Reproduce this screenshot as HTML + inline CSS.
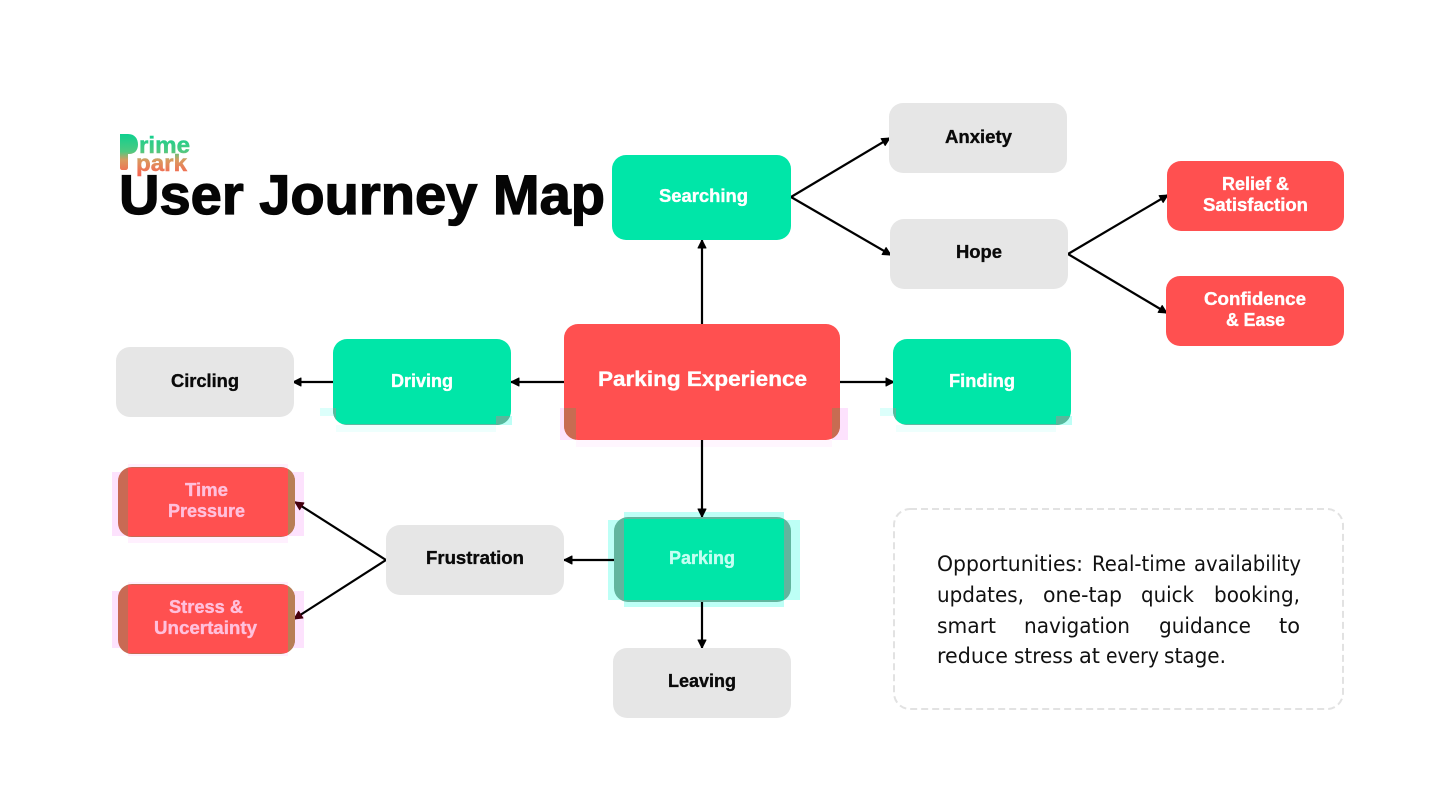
<!DOCTYPE html>
<html><head><meta charset="utf-8"><style>
html,body{margin:0;padding:0;background:#fff}
svg{display:block}
text{font-family:"Liberation Sans",sans-serif;font-weight:700;font-size:18px;stroke-width:.35}
.w{fill:#fff;stroke:#fff}.k{fill:#0a0a0a;stroke:#0a0a0a}
.p{fill:#ffc0dc;stroke:#ffc0dc}
.c{fill:#c4fff2;stroke:#c4fff2}
.n{font-family:"DejaVu Sans",sans-serif;font-weight:400;font-size:21.5px;fill:#111;stroke:none}
.l{stroke:#000;stroke-width:2.2;fill:none}
</style></head><body>
<svg width="1440" height="811" viewBox="0 0 1440 811" xmlns="http://www.w3.org/2000/svg">
<defs>
<linearGradient id="g" gradientUnits="userSpaceOnUse" x1="0" y1="134" x2="0" y2="176">
<stop offset="0" stop-color="#0fd08f"/><stop offset=".42" stop-color="#4fc980"/><stop offset=".62" stop-color="#d99a60"/><stop offset="1" stop-color="#f8604f"/>
</linearGradient>
<marker id="a" markerWidth="10" markerHeight="10" refX="9" refY="5" orient="auto" markerUnits="userSpaceOnUse"><path d="M1 1L9 5L1 9Z" fill="#000" stroke="#000" stroke-linejoin="round"/></marker>
<marker id="b" markerWidth="10" markerHeight="10" refX="9" refY="5" orient="auto" markerUnits="userSpaceOnUse"><path d="M1 1L9 5L1 9Z" fill="#45000f" stroke="#45000f" stroke-linejoin="round"/></marker>
<clipPath id="cPE"><rect x="564" y="324" width="276" height="116" rx="14"/></clipPath>
<clipPath id="cDr"><rect x="333" y="339" width="178" height="86" rx="14"/></clipPath>
<clipPath id="cFi"><rect x="893" y="339" width="178" height="86" rx="14"/></clipPath>
<clipPath id="cPa"><rect x="614" y="517" width="177" height="85" rx="14"/></clipPath>
<clipPath id="cTi"><rect x="118" y="467" width="177" height="70" rx="14"/></clipPath>
<clipPath id="cSt"><rect x="118" y="584" width="177" height="70" rx="14"/></clipPath>
</defs>

<!-- halos -->
<g fill="#fde2fd">
<rect x="112" y="472" width="192" height="64"/><rect x="128" y="464" width="160" height="79" fill="#fff0fe"/>
<rect x="112" y="591" width="192" height="57"/><rect x="128" y="582" width="160" height="74" fill="#fff0fe"/>
<rect x="560" y="408" width="16" height="32"/><rect x="832" y="408" width="16" height="32"/>
<rect x="576" y="440" width="256" height="7" fill="#fff6fe"/>
</g>
<g fill="#bdfff6">
<rect x="608" y="520" width="192" height="80"/><rect x="624" y="512" width="160" height="95"/>
<rect x="320" y="408" width="16" height="8" fill="#dcfffb"/><rect x="495" y="416" width="17" height="9"/>
<rect x="336" y="425" width="160" height="7" fill="#eefffd"/>
<rect x="880" y="408" width="16" height="8" fill="#dcfffb"/><rect x="1055" y="416" width="17" height="9"/>
<rect x="896" y="425" width="160" height="7" fill="#eefffd"/>
</g>

<!-- connectors -->
<g class="l">
<path d="M702 324V240" marker-end="url(#a)"/>
<path d="M564 382H511" marker-end="url(#a)"/>
<path d="M333 382H293" marker-end="url(#a)"/>
<path d="M840 382H894" marker-end="url(#a)"/>
<path d="M702 440V517" marker-end="url(#a)"/>
<path d="M614 560H564" marker-end="url(#a)"/>
<path d="M702 602V648" marker-end="url(#a)"/>
<path d="M791 197L890 138" marker-end="url(#a)"/>
<path d="M791 197L891 255" marker-end="url(#a)"/>
<path d="M1068 254L1168 195" marker-end="url(#a)"/>
<path d="M1068 254L1167 313" marker-end="url(#a)"/>
<path d="M386 560L295 502" marker-end="url(#b)"/>
<path d="M386 560L294 619" marker-end="url(#b)"/>
</g>

<!-- grey boxes -->
<g fill="#e6e6e6">
<rect x="889" y="103" width="178" height="70" rx="14"/>
<rect x="890" y="219" width="178" height="70" rx="14"/>
<rect x="116" y="347" width="178" height="70" rx="14"/>
<rect x="386" y="525" width="178" height="70" rx="14"/>
<rect x="613" y="648" width="178" height="70" rx="14"/>
</g>
<!-- red boxes -->
<g fill="#ff5050">
<rect x="1167" y="161" width="177" height="70" rx="14"/>
<rect x="1166" y="276" width="178" height="70" rx="14"/>
<rect x="564" y="324" width="276" height="116" rx="14"/>
</g>
<g clip-path="url(#cPE)" fill="#c76c52"><rect x="560" y="408" width="16" height="34"/><rect x="832" y="408" width="10" height="34"/></g>
<g fill="#c86a54">
<rect x="118" y="467" width="177" height="70" rx="14"/>
<rect x="118" y="584" width="177" height="70" rx="14"/>
</g>
<g clip-path="url(#cTi)"><rect x="128" y="468" width="160" height="68" fill="#ff5050"/><rect x="288" y="467" width="10" height="70" fill="#b87e56"/></g>
<g clip-path="url(#cSt)"><rect x="128" y="585" width="160" height="68" fill="#ff5050"/><rect x="288" y="584" width="10" height="70" fill="#b87e56"/></g>
<!-- green boxes -->
<g fill="#00e6a8">
<rect x="612" y="155" width="179" height="85" rx="14"/>
<rect x="333" y="339" width="178" height="86" rx="14"/>
<rect x="893" y="339" width="178" height="86" rx="14"/>
</g>
<g clip-path="url(#cDr)" fill="#58b89c"><rect x="333" y="408" width="3" height="17"/><rect x="496" y="416" width="15" height="9"/><rect x="336" y="424" width="160" height="1" fill="#62b8a0"/></g>
<g clip-path="url(#cFi)" fill="#58b89c"><rect x="893" y="408" width="3" height="17"/><rect x="1056" y="416" width="15" height="9"/><rect x="896" y="424" width="160" height="1" fill="#62b8a0"/></g>
<rect x="614" y="517" width="177" height="85" rx="14" fill="#62b59e"/>
<g clip-path="url(#cPa)"><rect x="624" y="519" width="160" height="81" fill="#00e6a8"/></g>

<!-- labels -->
<text class="w" x="659" y="202" textLength="89" lengthAdjust="spacingAndGlyphs">Searching</text>
<text class="k" x="945" y="143" textLength="67" lengthAdjust="spacingAndGlyphs">Anxiety</text>
<text class="k" x="956" y="258" textLength="46" lengthAdjust="spacingAndGlyphs">Hope</text>
<text class="w" x="1222" y="190" textLength="67" lengthAdjust="spacingAndGlyphs">Relief &amp;</text>
<text class="w" x="1203" y="211" textLength="105" lengthAdjust="spacingAndGlyphs">Satisfaction</text>
<text class="w" x="1204" y="305" textLength="102" lengthAdjust="spacingAndGlyphs">Confidence</text>
<text class="w" x="1226" y="326" textLength="59" lengthAdjust="spacingAndGlyphs">&amp; Ease</text>
<text class="w" x="598" y="386" textLength="209" lengthAdjust="spacingAndGlyphs" style="font-size:21px">Parking Experience</text>
<text class="w" x="391" y="387" textLength="62" lengthAdjust="spacingAndGlyphs">Driving</text>
<text class="w" x="949" y="387" textLength="66" lengthAdjust="spacingAndGlyphs">Finding</text>
<text class="k" x="171" y="387" textLength="68" lengthAdjust="spacingAndGlyphs">Circling</text>
<text class="p" x="185" y="496" textLength="43" lengthAdjust="spacingAndGlyphs">Time</text>
<text class="p" x="168" y="517" textLength="77" lengthAdjust="spacingAndGlyphs">Pressure</text>
<text class="p" x="169" y="613" textLength="74" lengthAdjust="spacingAndGlyphs">Stress &amp;</text>
<text class="p" x="154" y="634" textLength="103" lengthAdjust="spacingAndGlyphs">Uncertainty</text>
<text class="k" x="426" y="564" textLength="98" lengthAdjust="spacingAndGlyphs">Frustration</text>
<text class="c" x="669" y="564" textLength="66" lengthAdjust="spacingAndGlyphs">Parking</text>
<text class="k" x="668" y="687" textLength="68" lengthAdjust="spacingAndGlyphs">Leaving</text>

<!-- title -->
<text x="119" y="214" textLength="486" lengthAdjust="spacingAndGlyphs" style="font-size:56px;stroke:#050505;stroke-width:1.3" fill="#050505">User Journey Map</text>

<!-- logo -->
<path d="M120 134H128C134.500 134 138 138.500 138 144.500C138 150 135 154 129 154H128V167.500C128 169 127 170 125.500 170H122C121 170 120 169 120 168Z" fill="url(#g)"/>
<text x="139" y="153" textLength="51" lengthAdjust="spacingAndGlyphs" style="font-size:23px;stroke:url(#g);stroke-width:.5" fill="url(#g)">rime</text>
<text x="136" y="171" textLength="51" lengthAdjust="spacingAndGlyphs" style="font-size:23px;stroke:url(#g);stroke-width:.5" fill="url(#g)">park</text>

<!-- note -->
<rect x="894" y="509" width="449" height="200" rx="16" fill="#fff" stroke="#e2e2e2" stroke-width="2" stroke-dasharray="7 4"/>
<g>
<text class="n" x="937" y="571" textLength="146" lengthAdjust="spacingAndGlyphs">Opportunities:</text>
<text class="n" x="1092" y="571" textLength="94" lengthAdjust="spacingAndGlyphs">Real-time</text>
<text class="n" x="1194" y="571" textLength="107" lengthAdjust="spacingAndGlyphs">availability</text>
<text class="n" x="937" y="602" textLength="87" lengthAdjust="spacingAndGlyphs">updates,</text>
<text class="n" x="1043" y="602" textLength="79" lengthAdjust="spacingAndGlyphs">one-tap</text>
<text class="n" x="1141" y="602" textLength="53" lengthAdjust="spacingAndGlyphs">quick</text>
<text class="n" x="1214" y="602" textLength="86" lengthAdjust="spacingAndGlyphs">booking,</text>
<text class="n" x="937" y="633" textLength="59" lengthAdjust="spacingAndGlyphs">smart</text>
<text class="n" x="1024" y="633" textLength="106" lengthAdjust="spacingAndGlyphs">navigation</text>
<text class="n" x="1159" y="633" textLength="92" lengthAdjust="spacingAndGlyphs">guidance</text>
<text class="n" x="1279" y="633" textLength="21" lengthAdjust="spacingAndGlyphs">to</text>
<text class="n" x="937" y="663" textLength="71" lengthAdjust="spacingAndGlyphs">reduce</text>
<text class="n" x="1014" y="663" textLength="59" lengthAdjust="spacingAndGlyphs">stress</text>
<text class="n" x="1079" y="663" textLength="21" lengthAdjust="spacingAndGlyphs">at</text>
<text class="n" x="1106" y="663" textLength="53" lengthAdjust="spacingAndGlyphs">every</text>
<text class="n" x="1164" y="663" textLength="62" lengthAdjust="spacingAndGlyphs">stage.</text>
</g>
</svg>
</body></html>
